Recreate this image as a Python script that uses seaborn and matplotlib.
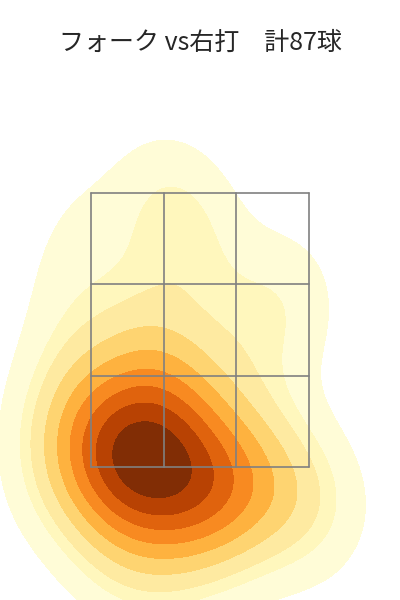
import numpy as np
import pandas as pd
import matplotlib.pyplot as plt
import seaborn as sns

# pitch locations (zone units: 3x3 zone spans 0-3 on both axes)
pitch_x = [0.85, 0.62, 1.08, 0.40, 1.30, 0.80, 0.92, 0.39, 1.32, 0.65,
           1.07, 0.11, 1.60, 0.75, 0.78, 0.35, 1.35, 1.18, 0.32, 0.02,
           1.73, 0.61, 1.15, 0.20, 1.91, 0.55, 0.96, -0.18, 1.47, 0.83,
           -0.11, 1.93, 0.01, 1.46, 0.71,
           1.85, 2.00, 2.15, 2.30, 2.50, 2.70, 2.85, 3.05, 3.30, 1.90,
           2.30, 2.70, 1.75,
           0.30, 0.60, 1.15, 0.00, 1.45, 0.35, 0.90,
           -0.55, -0.40, -0.60, -0.25, -0.35,
           0.45, 0.80, 1.15, -0.20, 0.75, 1.40, 1.05, 1.55, 0.55, -0.30, 1.00,
           1.15, 1.40, 0.90, 1.65, 0.00,
           2.65, 2.80, 2.30, 1.90, 2.45,
           0.70, 1.20, 0.10, 1.70, 0.30, 1.05]
pitch_y = [0.03, 0.14, -0.08, 0.25, -0.19, -0.03, 0.09, 0.09, -0.03, -0.08,
           0.14, 0.31, -0.25, 0.25, -0.19, -0.03, 0.09, -0.30, 0.42, 0.14,
           -0.14, 0.36, -0.41, -0.08, -0.36, -0.25, 0.36, 0.36, 0.20, -0.47,
           0.03, -0.03, 0.53, -0.52, 0.53,
           -0.25, -0.45, -0.05, -0.60, -0.30, -0.50, -0.15, -0.60, -0.35, 0.25,
           0.25, 0.15, -0.75,
           -0.70, -0.90, -0.95, -0.40, -0.80, -1.05, -1.15,
           0.30, 0.70, -0.05, 1.05, -0.35,
           1.00, 1.15, 0.90, 1.50, 1.20, 1.20, 2.75, 0.80, 1.80, 2.10, 1.85,
           2.50, 2.85, 3.05, 2.30, 2.70,
           1.75, 2.00, 1.00, 1.70, 1.55,
           0.80, 0.60, 0.75, 0.55, -0.35, 0.80]

zone_lines = [0, 1, 2, 3]
title = 'フォーク vs右打\u3000計87球'

df = pd.DataFrame({'x': pitch_x, 'y': pitch_y})

sns.set_style('white')
plt.rcParams['font.family'] = ['Noto Sans CJK JP', 'DejaVu Sans']

fig = plt.figure(figsize=(4, 6), dpi=100)
ax = fig.add_axes([0, 0, 1, 1])
sns.kdeplot(data=df, x='x', y='y', fill=True, cmap='YlOrBr', levels=10,
            thresh=0.05, bw_adjust=1.2, ax=ax)

# strike zone grid
for v in zone_lines:
    ax.plot([v, v], [0, 3], color='gray', lw=1.2)
    ax.plot([0, 3], [v, v], color='gray', lw=1.2)

ax.set_xlim(-1.252, 4.252)
ax.set_ylim(-1.456, 5.113)
ax.axis('off')
fig.suptitle(title, y=0.928, va='center', fontsize=18)
plt.savefig('out.png', dpi=100)
